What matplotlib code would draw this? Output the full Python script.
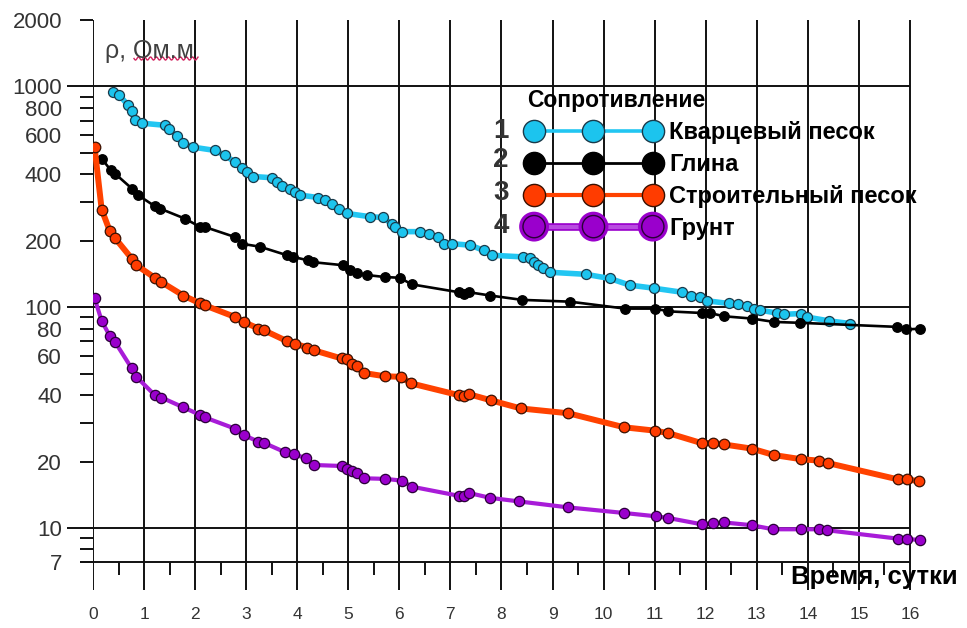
import numpy as np
import matplotlib
matplotlib.use("Agg")
import matplotlib.pyplot as plt
from matplotlib.lines import Line2D
from matplotlib.ticker import NullLocator
import matplotlib.patheffects as pe

plt.rcParams['font.family'] = ['Liberation Sans', 'DejaVu Sans']

# ---------------- data ----------------
quartz_t = [0.40, 0.51, 0.69, 0.76, 0.82, 0.95, 1.41, 1.49, 1.65, 1.77, 1.96, 2.39, 2.59, 2.78, 2.91, 3.01,
            3.14, 3.50, 3.60, 3.70, 3.86, 3.96, 4.06, 4.41, 4.55, 4.68, 4.81, 4.97, 5.43, 5.67, 5.85, 5.92,
            6.05, 6.41, 6.59, 6.75, 6.87, 7.03, 7.39, 7.65, 7.81, 8.43, 8.56, 8.64, 8.72, 8.81, 8.95, 9.65,
            10.12, 10.51, 10.98, 11.53, 11.72, 11.89, 12.02, 12.45, 12.64, 12.80, 12.94, 13.07, 13.39, 13.53,
            13.86, 13.98, 14.42, 14.83]
quartz_v = [943, 917, 820, 773, 702, 682, 667, 644, 594, 554, 531, 513, 487, 454, 428, 410,
            391, 386, 369, 353, 345, 333, 322, 314, 307, 294, 280, 266, 257, 255, 239, 231,
            220, 220, 214, 207, 194, 194, 191, 181, 172, 169, 168, 160, 155, 150, 144, 141,
            135, 126, 122, 117, 113, 111, 107, 104, 103, 101, 98.7, 96.9, 94.2, 92.9,
            93.6, 90.3, 86.7, 84.4]

clay_t = [0.17, 0.35, 0.43, 0.76, 0.89, 1.21, 1.31, 1.80, 2.10, 2.19, 2.78, 2.91, 3.27, 3.80, 3.92, 4.22,
          4.31, 4.90, 5.04, 5.17, 5.36, 5.72, 6.01, 6.24, 7.16, 7.26, 7.36, 7.78, 8.40, 9.34, 10.42, 11.01,
          11.27, 11.92, 12.08, 12.36, 12.90, 13.34, 13.85, 15.74, 15.93, 16.20]
clay_v = [471, 417, 403, 345, 321, 287, 280, 252, 231, 231, 208, 194, 188, 172, 169, 163,
          160, 155, 147, 143, 140, 137, 136, 127, 117, 115, 117, 113, 108, 106, 98.6, 98.6,
          95.8, 94.2, 94.2, 91.0, 88.9, 85.8, 85.0, 81.5, 79.3, 80.0]

sand_t = [0.03, 0.17, 0.33, 0.43, 0.76, 0.85, 1.21, 1.34, 1.77, 2.10, 2.19, 2.78, 2.95, 3.24, 3.34, 3.79,
          3.96, 4.19, 4.32, 4.87, 4.98, 5.07, 5.17, 5.30, 5.71, 6.03, 6.23, 7.16, 7.26, 7.36, 7.79, 8.38,
          9.31, 10.40, 11.01, 11.27, 11.93, 12.14, 12.36, 12.90, 13.34, 13.87, 14.22, 14.39, 15.77, 15.94,
          16.18]
sand_v = [532, 277, 221, 206, 166, 155, 136, 130, 113, 104, 102, 90.4, 85.8, 80.1, 78.8, 70.4,
          68.5, 65.7, 63.9, 58.6, 58.0, 55.6, 54.1, 50.4, 48.7, 48.4, 45.2, 40.0, 39.6, 40.4, 37.9, 34.8,
          33.1, 28.6, 27.6, 26.9, 24.2, 24.3, 23.9, 22.9, 21.4, 20.5, 20.2, 19.7, 16.6, 16.6,
          16.3]

soil_t = [0.03, 0.17, 0.33, 0.43, 0.76, 0.85, 1.21, 1.34, 1.77, 2.10, 2.19, 2.78, 2.95, 3.24, 3.35, 3.77,
          3.94, 4.17, 4.32, 4.87, 4.97, 5.07, 5.18, 5.30, 5.72, 6.05, 6.24, 7.16, 7.26, 7.37, 7.78, 8.34,
          9.31, 10.40, 11.03, 11.27, 11.92, 12.14, 12.36, 12.90, 13.32, 13.86, 14.21, 14.38, 15.77, 15.94,
          16.20]
soil_v = [110, 86.7, 74.0, 69.7, 52.8, 48.4, 40.0, 39.0, 35.2, 32.5, 31.7, 28.2, 26.4, 24.6, 24.3, 22.0,
          21.6, 20.7, 19.3, 19.1, 18.5, 18.2, 17.7, 16.8, 16.7, 16.4, 15.4, 14.0, 14.0, 14.4, 13.7, 13.2,
          12.4, 11.7, 11.3, 11.1, 10.4, 10.5, 10.6, 10.3, 9.87, 9.87, 9.87, 9.77, 8.95, 8.95,
          8.80]

series_names = ["Кварцевый песок", "Глина", "Строительный песок", "Грунт"]
series_nums = ["1", "2", "3", "4"]
legend_title = "Сопротивление"

x_ticks = list(range(17))
y_ticks = [2000, 1000, 900, 800, 700, 600, 500, 400, 300, 200, 100, 90, 80, 70, 60, 50, 40, 30, 20, 10, 9, 8, 7]
y_labels = {2000: "2000", 1000: "1000", 800: "800", 600: "600", 400: "400", 200: "200",
            100: "100", 80: "80", 60: "60", 40: "40", 20: "20", 10: "10", 7: "7"}
decade_lines = [1000, 100, 10]

# ---------------- figure ----------------
W, H = 967, 628
fig = plt.figure(figsize=(W / 100, H / 100), dpi=100)
px_day = 51.06
x0_px, ytop_px, ybot_px = 93, 20, 590
ax = fig.add_axes([x0_px / W, 1 - ybot_px / H, 17 * px_day / W, (ybot_px - ytop_px) / H])
ax.set_yscale('log')
ax.set_xlim(0, 17)
ax.set_ylim(5.24, 2000)
for s in ax.spines.values():
    s.set_visible(False)

grid_c = '#111111'
ax.vlines(x_ticks, 5.24, 2000, color=grid_c, lw=1.4, zorder=1)
ax.hlines(decade_lines, -0.51, 16, color=grid_c, lw=1.4, zorder=1, clip_on=False)
ax.hlines([7], -0.25, 16, color=grid_c, lw=1.4, zorder=1, clip_on=False)
ax.vlines(np.arange(0.5, 16, 1.0), 6.12, 7, color=grid_c, lw=1.4, zorder=1)

ax.set_yticks(y_ticks, labels=[y_labels.get(v, "") for v in y_ticks])
ax.yaxis.set_minor_locator(NullLocator())
ax.tick_params(axis='y', length=9.4, width=1.4, color=grid_c, pad=13, labelsize=16, labelcolor='#333333')
ax.set_xticks(x_ticks, labels=[str(v) for v in x_ticks])
ax.xaxis.set_minor_locator(NullLocator())
ax.tick_params(axis='x', length=0, pad=12, labelsize=12.5, labelcolor='#333333')

cyan, orange, purple = '#1CC4EE', '#FF3C00', '#9A00CC'
ax.plot(quartz_t, quartz_v, color='#22C6F2', lw=4.0, marker='o', ms=7.2, mfc=cyan, mec='#1a3a4a', mew=0.9, zorder=3)
ax.plot(clay_t, clay_v, color='black', lw=1.9, marker='o', ms=6.8, mfc='black', mec='black', zorder=3)
ax.plot(sand_t, sand_v, color='#FF4200', lw=4.3, marker='o', ms=7.6, mfc=orange, mec='#3a1000', mew=0.9, zorder=3)
ax.plot(soil_t, soil_v, color='#A81CD8', lw=3.0, marker='o', ms=7.4, mfc=purple, mec='#2a0038', mew=0.9, zorder=3)

# ---------------- legend ----------------
handles = [
    Line2D([], [], color='#22C6F2', lw=2.6, marker='o', ms=16, mfc=cyan, mec='#1a3a4a', mew=1),
    Line2D([], [], color='black', lw=2.0, marker='o', ms=16, mfc='black', mec='black', mew=1),
    Line2D([], [], color='#FF4200', lw=3.0, marker='o', ms=16, mfc=orange, mec='#3a1000', mew=1),
    Line2D([], [], color='#B84BE0', lw=3.0, marker='o', ms=16, mfc=purple, mec='#2a0038', mew=1,
           path_effects=[pe.Stroke(linewidth=5.5, foreground='#9A00CC'), pe.Normal()]),
]
leg = ax.legend(handles, series_names, loc='upper left', bbox_to_anchor=(527 / W, 1 - 89 / H),
                bbox_transform=fig.transFigure, numpoints=3, handlelength=5.63, handletextpad=0.38,
                labelspacing=0.38, frameon=False, borderpad=0, borderaxespad=0,
                title=legend_title, alignment='left',
                title_fontproperties={'weight': 'bold', 'size': 16.5, 'family': 'Liberation Sans'},
                prop={'weight': 'bold', 'size': 17, 'family': 'Liberation Sans'})
leg.set_zorder(5)

for num, ypx in zip(series_nums, [131, 160, 193, 226]):
    fig.text(501 / W, 1 - ypx / H, num, ha='center', va='center', fontsize=20, weight='bold', color='#333333')

# axis titles
fig.text(105 / W, 1 - 51 / H, "ρ, Ом.м", ha='left', va='center', fontsize=18, color='#404040')
wx = np.linspace(134, 198, 80)
wy = 58.5 + 1.6 * np.sin(2 * np.pi * (wx - 134) / 6.0)
fig.add_artist(Line2D(wx / W, 1 - wy / H, transform=fig.transFigure, color='#D0245E', lw=1.0))
fig.text(958 / W, 1 - 577 / H, "Время, сутки", ha='right', va='center', fontsize=18.5, weight='bold', color='black')

fig.savefig('out.png', dpi=100)
